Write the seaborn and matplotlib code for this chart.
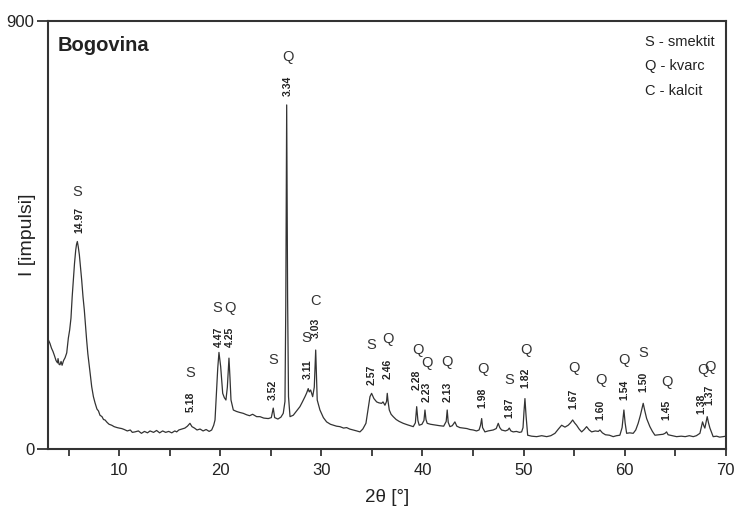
import matplotlib
matplotlib.use("Agg")
import matplotlib.pyplot as plt
import seaborn as sns
import pandas as pd
from matplotlib.ticker import MultipleLocator, FixedLocator

# ---------------- data ----------------
two_theta = [
    3.00, 3.15, 3.30, 3.45, 3.60, 3.75, 3.90, 3.95, 4.05, 4.14, 4.25, 4.35, 4.50, 4.65, 4.81,
    4.97, 5.10, 5.23, 5.35, 5.46, 5.58, 5.70, 5.78, 5.86, 5.95, 6.06, 6.18, 6.29, 6.42, 6.55,
    6.66, 6.78, 6.90, 7.01, 7.15, 7.28, 7.45, 7.61, 7.80, 7.95, 8.10, 8.30, 8.45, 8.60, 8.80,
    9.00, 9.26, 9.50, 9.80, 10.00, 10.25, 10.50, 10.80, 11.10, 11.30, 11.56, 11.90, 12.20,
    12.50, 12.80, 13.05, 13.40, 13.70, 14.00, 14.30, 14.60, 14.90, 15.20, 15.50, 15.69, 15.90,
    16.20, 16.50, 16.75, 17.00, 17.20, 17.45, 17.70, 18.00, 18.30, 18.60, 18.90, 19.15, 19.35,
    19.48, 19.64, 19.75, 19.87, 20.04, 20.24, 20.40, 20.56, 20.70, 20.86, 20.96, 21.06, 21.29,
    21.60, 21.90, 22.27, 22.60, 22.90, 23.20, 23.60, 23.93, 24.30, 24.75, 25.05, 25.24, 25.38,
    25.70, 26.00, 26.23, 26.40, 26.48, 26.57, 26.66, 26.75, 26.90, 27.22, 27.55, 27.88, 28.10,
    28.38, 28.55, 28.70, 28.80, 28.94, 29.14, 29.30, 29.44, 29.52, 29.59, 29.86, 30.20, 30.52,
    30.90, 31.20, 31.50, 31.84, 32.20, 32.50, 32.80, 33.16, 33.50, 33.82, 34.10, 34.41, 34.60,
    34.81, 34.97, 35.20, 35.47, 35.70, 35.96, 36.10, 36.29, 36.45, 36.52, 36.60, 36.72, 36.90,
    37.11, 37.40, 37.70, 38.10, 38.50, 38.80, 39.09, 39.30, 39.43, 39.55, 39.68, 39.95, 40.15,
    40.25, 40.35, 40.47, 40.80, 41.10, 41.40, 41.70, 42.10, 42.35, 42.45, 42.55, 42.72, 42.95,
    43.21, 43.40, 43.70, 44.04, 44.40, 44.70, 45.02, 45.35, 45.60, 45.75, 45.86, 45.95, 46.18,
    46.50, 46.75, 47.00, 47.30, 47.50, 47.65, 47.83, 48.20, 48.45, 48.59, 48.75, 48.98, 49.30,
    49.60, 49.81, 49.95, 50.05, 50.14, 50.25, 50.41, 50.80, 51.30, 51.80, 52.29, 52.70, 53.11,
    53.45, 53.77, 54.10, 54.42, 54.65, 54.86, 55.05, 55.25, 55.50, 55.75, 56.00, 56.24, 56.50,
    56.74, 57.10, 57.40, 57.56, 57.80, 58.10, 58.50, 58.87, 59.20, 59.53, 59.75, 59.93, 60.05,
    60.20, 60.50, 60.85, 61.10, 61.34, 61.55, 61.84, 62.00, 62.18, 62.35, 62.50, 62.75, 63.00,
    63.40, 63.80, 64.00, 64.15, 64.30, 64.70, 65.14, 65.60, 66.00, 66.40, 66.79, 67.10, 67.45,
    67.71, 67.85, 67.94, 68.05, 68.17, 68.30, 68.44, 68.76, 69.10, 69.40, 69.75, 70.00,
]
intensity = [
    229, 222, 212, 205, 196, 186, 181, 190, 178, 177, 184, 176, 186, 192, 202,
    233, 250, 275, 320, 355, 390, 418, 430, 436, 425, 408, 380, 355, 320, 292,
    262, 229, 200, 181, 155, 131, 110, 97, 84, 80, 71, 68, 62, 61, 56,
    52, 50, 47, 45, 44, 43, 41, 38, 40, 35, 36, 38, 33,
    37, 34, 38, 35, 39, 34, 38, 35, 37, 34, 38, 36, 40,
    42, 44, 48, 54, 47, 44, 40, 42, 38, 41, 37, 40, 50,
    61, 124, 170, 203, 173, 117, 108, 103, 130, 191, 150, 103, 82,
    79, 77, 75, 72, 70, 73, 68, 68, 65, 64, 66, 86, 66,
    63, 67, 75, 100, 300, 723, 320, 110, 68, 71, 80, 89, 98,
    110, 118, 127, 120, 124, 110, 130, 208, 150, 103, 82, 66, 57,
    52, 50, 48, 47, 44, 45, 42, 40, 38, 36, 42, 54, 80,
    110, 117, 106, 99, 97, 96, 99, 92, 100, 117, 100, 82, 73,
    68, 62, 58, 54, 51, 49, 47, 55, 89, 60, 50, 52, 60,
    82, 62, 54, 52, 51, 50, 49, 48, 58, 82, 56, 47, 49,
    57, 48, 45, 44, 43, 41, 40, 38, 40, 50, 64, 45, 36,
    38, 39, 40, 43, 54, 45, 40, 38, 40, 44, 38, 36, 37,
    35, 36, 45, 80, 106, 70, 29, 27, 26, 28, 26, 28, 33,
    42, 50, 46, 50, 55, 61, 55, 50, 42, 36, 41, 47, 40,
    36, 38, 37, 40, 34, 30, 29, 26, 28, 29, 45, 82, 55,
    33, 34, 33, 40, 54, 70, 96, 80, 64, 55, 47, 37, 29,
    30, 31, 33, 36, 30, 28, 26, 27, 26, 28, 26, 28, 33,
    57, 48, 44, 55, 68, 55, 44, 26, 27, 25, 26, 27,
]

# peak annotations: phase letter, d-spacing label
phase_letters = ["S", "S", "S", "Q", "S", "Q", "S", "C", "S", "Q", "Q", "Q",
                 "Q", "Q", "S", "Q", "Q", "Q", "Q", "S", "Q", "Q", "Q"]
d_labels = ["14.97", "5.18", "4.47", "4.25", "3.52", "3.34", "3.11", "3.03", "2.57",
            "2.46", "2.28", "2.23", "2.13", "1.98", "1.87", "1.82", "1.67", "1.60",
            "1.54", "1.50", "1.45", "1.38", "1.37"]
letter_x = [5.83, 17.07, 19.72, 20.96, 25.24, 26.67, 28.55, 29.47, 34.98, 36.56, 39.53,
            40.42, 42.45, 45.98, 48.59, 50.21, 54.99, 57.63, 59.93, 61.84, 64.21, 67.72, 68.44]
letter_y = [541, 159, 296, 296, 188, 824, 233, 310, 219, 231, 208,
            181, 183, 168, 145, 208, 170, 144, 187, 202, 141, 165, 173]
dlab_x = [6.02, 17.07, 19.87, 20.96, 25.24, 26.67, 28.63, 29.49, 34.98, 36.56, 39.46,
          40.40, 42.45, 45.89, 48.59, 50.19, 54.94, 57.61, 59.93, 61.86, 64.18, 67.62, 68.39]
dlab_y = [481, 99, 235, 235, 124, 763, 168, 254, 155, 168, 145,
          120, 120, 107, 86, 149, 105, 82, 124, 141, 82, 95, 113]

legend_lines = ["S - smektit", "Q - kvarc", "C - kalcit"]
title_text = "Bogovina"
x_ticks = [10, 20, 30, 40, 50, 60, 70]
y_ticks = [0, 900]

# ---------------- plotting ----------------
sns.set_theme(style="ticks")
plt.rcParams["font.family"] = ["Liberation Sans", "DejaVu Sans"]

df = pd.DataFrame({"two_theta": two_theta, "intensity": intensity})

fig = plt.figure(figsize=(7.36, 5.12), dpi=100)
ax = fig.add_axes([0.0658, 0.123, 0.9202, 0.8366])

sns.lineplot(data=df, x="two_theta", y="intensity", ax=ax, color="#333333",
             linewidth=0.9, estimator=None, sort=False)

ax.set_xlim(3, 70)
ax.set_ylim(0, 900)
ax.xaxis.set_major_locator(FixedLocator(x_ticks))
ax.xaxis.set_minor_locator(MultipleLocator(5))
ax.yaxis.set_major_locator(FixedLocator(y_ticks))
ax.tick_params(axis="x", which="both", direction="out", length=5, width=1.2,
               labelsize=12, colors="#222222", pad=5)
ax.tick_params(axis="y", which="major", direction="out", length=8, width=1.2,
               labelsize=12, colors="#222222", pad=2)
for sp in ax.spines.values():
    sp.set_visible(True)
    sp.set_linewidth(1.5)
    sp.set_color("#333333")

ax.set_xlabel("2θ [°]", fontsize=13.5, color="#222222", labelpad=8)
ax.set_ylabel("I [impulsi]", fontsize=14, color="#222222")
ax.yaxis.set_label_coords(-0.018, 0.5)

ax.text(0.013, 0.965, title_text, transform=ax.transAxes, fontsize=14.5,
        fontweight="bold", color="#222222", ha="left", va="top")

for i, line in enumerate(legend_lines):
    ax.text(0.881, 0.951 - i * 0.0572, line, transform=ax.transAxes, fontsize=10.5,
            color="#222222", ha="left", va="center")

for lt, lx, ly in zip(phase_letters, letter_x, letter_y):
    ax.text(lx, ly, lt, fontsize=10.5, color="#333333", ha="center", va="center")
for dt, dx, dy in zip(d_labels, dlab_x, dlab_y):
    ax.text(dx, dy, dt, fontsize=7.5, fontweight="bold", color="#222222",
            rotation=90, ha="center", va="center")

fig.savefig("out.png", dpi=100)
